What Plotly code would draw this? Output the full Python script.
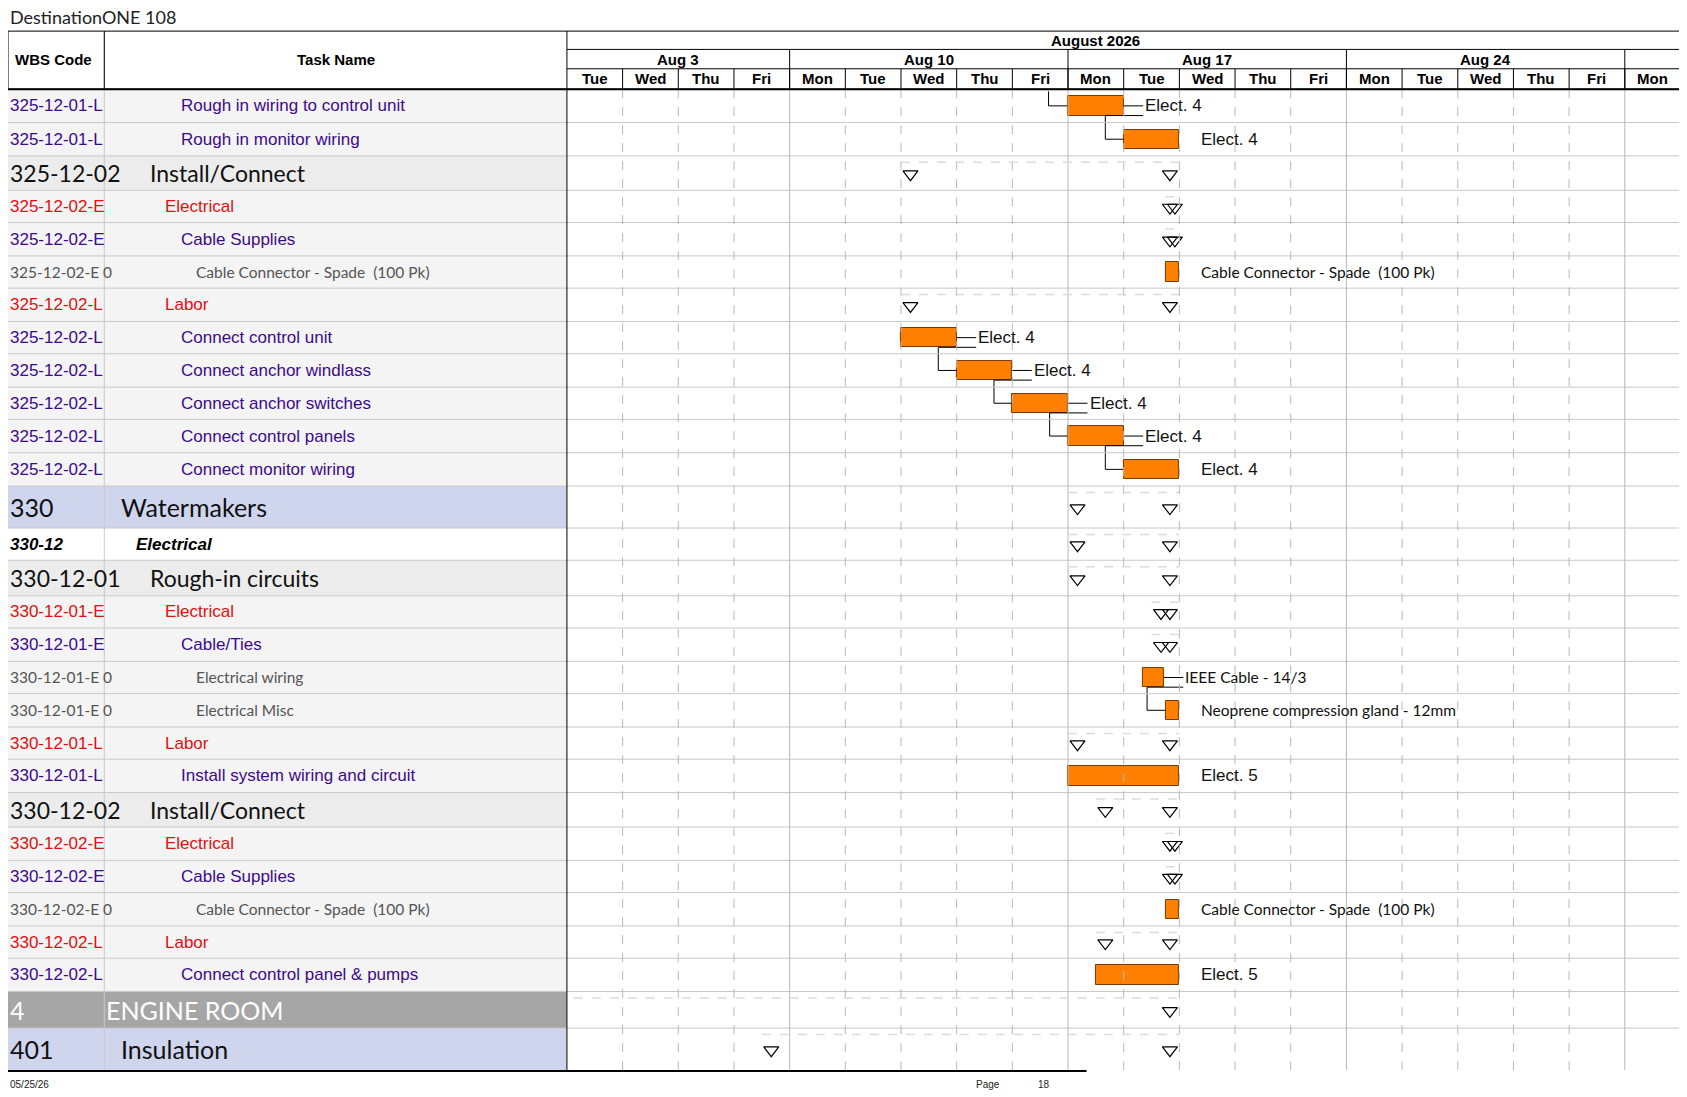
import plotly.graph_objects as go

# ---------------- data ----------------
wbs = ["325-12-01-L","325-12-01-L","325-12-02","325-12-02-E","325-12-02-E","325-12-02-E 0",
       "325-12-02-L","325-12-02-L","325-12-02-L","325-12-02-L","325-12-02-L","325-12-02-L",
       "330","330-12","330-12-01","330-12-01-E","330-12-01-E","330-12-01-E 0","330-12-01-E 0",
       "330-12-01-L","330-12-01-L","330-12-02","330-12-02-E","330-12-02-E","330-12-02-E 0",
       "330-12-02-L","330-12-02-L","4","401"]
tasks = ["Rough in wiring to control unit","Rough in monitor wiring","Install/Connect","Electrical",
         "Cable Supplies","Cable Connector - Spade  (100 Pk)","Labor","Connect control unit",
         "Connect anchor windlass","Connect anchor switches","Connect control panels","Connect monitor wiring",
         "Watermakers","Electrical","Rough-in circuits","Electrical","Cable/Ties","Electrical wiring",
         "Electrical Misc","Labor","Install system wiring and circuit","Install/Connect","Electrical",
         "Cable Supplies","Cable Connector - Spade  (100 Pk)","Labor","Connect control panel & pumps",
         "ENGINE ROOM","Insulation"]
kinds = ["task","task","sum","red","task","item","red","task","task","task","task","task",
         "grp","bi","sum","red","task","item","item","red","task","sum","red","task","item",
         "red","task","eng","grp"]
# working-day index: 0 = Tue Aug 4
starts = [9,10,6,10.75,10.75,10.75,6,6,7,8,9,10,9,9,9,10.5,10.5,10.35,10.75,9,9,9.5,10.75,10.75,10.75,9.5,9.5,-1,3.5]
ends   = [10,11,11,11,11,11,11,7,8,9,10,11,11,11,11,11,11,10.72,11,11,11,11,11,11,11,11,11,11,11]
labels = ["Elect. 4","Elect. 4","","","","Cable Connector - Spade  (100 Pk)","","Elect. 4","Elect. 4",
          "Elect. 4","Elect. 4","Elect. 4","","","","","","IEEE Cable - 14/3",
          "Neoprene compression gland - 12mm","","Elect. 5","","","","Cable Connector - Spade  (100 Pk)",
          "","Elect. 5","",""]
pred = [-2,0,None,None,None,None,None,None,7,8,9,10,None,None,None,None,None,None,17,None,None,
        None,None,None,None,None,None,None,None]
succ = [0,7,8,9,10,17]
days = ["Tue","Wed","Thu","Fri","Mon","Tue","Wed","Thu","Fri","Mon","Tue","Wed","Thu","Fri",
        "Mon","Tue","Wed","Thu","Fri","Mon"]
weeks = ["Aug 3","Aug 10","Aug 17","Aug 24"]
week_start = [-1,4,9,14]

# ---------------- layout constants (display units) ----------------
tops = [83,114,145,177,207,238,268,299,329,360,390,421,452,491,521,554,584,615,645,676,706,737,
        769,800,830,861,891,922,956,995]
W, H = 1568, 1020
OFF = 7.5  # compensates the page's body margin
XL = OFF + 0.3  # leftmost visible text position
GX0, GX1 = 527, 1562
dw = (GX1 - GX0) / 20.0
def gx(d): return GX0 + d * dw

style = {
    "task": dict(col="#3c0a8c", size=17, indent=166, bg="#f4f4f4", fam="Liberation Sans"),
    "red":  dict(col="#e01010", size=17, indent=152, bg="#f4f4f4", fam="Liberation Sans"),
    "item": dict(col="#555555", size=15.5, indent=180, bg="#f4f4f4", fam="Lato"),
    "sum":  dict(col="#111111", size=23, indent=138, bg="#ececec", fam="Lato"),
    "grp":  dict(col="#111111", size=25, indent=111, bg="#d0d5ee", fam="Lato"),
    "bi":   dict(col="#000000", size=17, indent=125, bg="#ffffff", fam="Liberation Sans"),
    "eng":  dict(col="#ffffff", size=25, indent=97, bg="#a6a6a6", fam="Lato"),
}

shapes, ann = [], []
fig = go.Figure()

for i, k in enumerate(kinds):
    s = style[k]
    shapes.append(dict(type="rect", xref="x", yref="y", x0=0, x1=GX0, y0=tops[i], y1=tops[i+1],
                       fillcolor=s["bg"], line=dict(width=0), layer="below"))
    yc = (tops[i] + tops[i+1]) / 2
    fw = dict(color=s["col"], size=s["size"], family=s["fam"])
    txt_w = f"<b><i>{wbs[i]}</i></b>" if k == "bi" else wbs[i]
    txt_t = f"<b><i>{tasks[i]}</i></b>" if k == "bi" else tasks[i]
    ann.append(dict(x=XL, y=yc, xref="x", yref="y", text=txt_w, showarrow=False, xanchor="left", font=fw))
    ann.append(dict(x=s["indent"], y=yc, xref="x", yref="y", text=txt_t, showarrow=False,
                    xanchor="left", font=fw))
for t in tops[1:-1]:
    shapes.append(dict(type="line", xref="x", yref="y", x0=0, x1=GX1, y0=t, y1=t,
                       line=dict(color="#c8c8c8", width=1)))
shapes.append(dict(type="line", xref="x", yref="y", x0=97, x1=97, y0=29, y1=995,
                   line=dict(color="#c8c8c8", width=1)))

for d in range(1, 21):
    x = gx(d)
    wk = d in (4, 9, 14, 19)
    shapes.append(dict(type="line", xref="x", yref="y", x0=x, x1=x, y0=83, y1=995,
                       line=dict(color="#b8b8b8", width=1, dash="solid" if wk else "dash")))

shapes += [
    dict(type="rect", xref="x", yref="y", x0=OFF, x1=W-1, y0=29, y1=83, line=dict(color="black", width=1)),
    dict(type="line", xref="x", yref="y", x0=0, x1=W, y0=83, y1=83, line=dict(color="black", width=2)),
    dict(type="line", xref="x", yref="y", x0=97, x1=97, y0=29, y1=83, line=dict(color="black", width=1)),
    dict(type="line", xref="x", yref="y", x0=GX0, x1=GX0, y0=29, y1=995, line=dict(color="black", width=1)),
    dict(type="line", xref="x", yref="y", x0=GX0, x1=GX1, y0=46, y1=46, line=dict(color="black", width=1)),
    dict(type="line", xref="x", yref="y", x0=GX0, x1=GX1, y0=64, y1=64, line=dict(color="black", width=1)),
    dict(type="line", xref="x", yref="y", x0=GX1, x1=GX1, y0=29, y1=995, line=dict(color="#1a1a80", width=1.5)),
    dict(type="line", xref="x", yref="y", x0=0, x1=1010, y0=996, y1=996, line=dict(color="black", width=2)),
]
hf = dict(family="Liberation Sans", size=15, color="black")
ann.append(dict(x=50, y=55, xref="x", yref="y", text="<b>WBS Code</b>", showarrow=False, font=hf))
ann.append(dict(x=312, y=55, xref="x", yref="y", text="<b>Task Name</b>", showarrow=False, font=hf))
ann.append(dict(x=1018, y=37.5, xref="x", yref="y", text="<b>August 2026</b>", showarrow=False, font=hf))
for j, w in enumerate(weeks):
    a = max(week_start[j], 0); b = min(week_start[j] + 5, 20)
    if j > 0:
        shapes.append(dict(type="line", xref="x", yref="y", x0=gx(a), x1=gx(a), y0=46, y1=83,
                           line=dict(color="black", width=1)))
    ann.append(dict(x=(gx(a)+gx(b))/2, y=55, xref="x", yref="y", text=f"<b>{w}</b>", showarrow=False, font=hf))
shapes.append(dict(type="line", xref="x", yref="y", x0=gx(19), x1=gx(19), y0=46, y1=83, line=dict(color="black", width=1)))
for d, nm in enumerate(days):
    if d > 0:
        shapes.append(dict(type="line", xref="x", yref="y", x0=gx(d), x1=gx(d), y0=64, y1=83,
                           line=dict(color="black", width=1)))
    ann.append(dict(x=gx(d+0.5), y=73.5, xref="x", yref="y", text=f"<b>{nm}</b>", showarrow=False, font=hf))

ann.append(dict(x=XL, y=16, xref="x", yref="y", text="DestinationONE 108", showarrow=False, xanchor="left",
                font=dict(family="Lato", size=18, color="#222")))
ff = dict(family="Liberation Sans", size=10, color="#222")
ann.append(dict(x=XL, y=1008, xref="x", yref="y", text="05/25/26", showarrow=False, xanchor="left", font=ff))
ann.append(dict(x=918, y=1008, xref="x", yref="y", text="Page", showarrow=False, font=ff))
ann.append(dict(x=970, y=1008, xref="x", yref="y", text="18", showarrow=False, font=ff))

bx, bb, by = [], [], []
tx, ty = [], []
for i, k in enumerate(kinds):
    yc = (tops[i] + tops[i+1]) / 2
    if k in ("sum", "grp", "bi", "red", "eng") or tasks[i] in ("Cable Supplies", "Cable/Ties"):
        s0 = max(starts[i], -0.2)
        shapes.append(dict(type="line", xref="x2", yref="y", x0=s0, x1=ends[i], y0=tops[i]+6, y1=tops[i]+6,
                           line=dict(color="#dcdcdc", width=1.5, dash="dash")))
        if starts[i] >= 0:
            tx.append(starts[i] + 0.17); ty.append(yc + 1)
        tx.append(ends[i] - 0.17); ty.append(yc + 1)
    else:
        bx.append(ends[i] - starts[i]); bb.append(starts[i]); by.append(yc)
        if labels[i]:
            ann.append(dict(x=ends[i] + 0.35, y=yc, xref="x2", yref="y", text=labels[i], showarrow=False,
                            xanchor="left",
                            font=dict(family="Lato" if k == "item" else "Liberation Sans",
                                      size=15.5 if k == "item" else 17, color="#111")))
        if i in succ:
            fig.add_trace(go.Scatter(x=[ends[i], ends[i] + 0.35], y=[yc, yc], xaxis="x2", yaxis="y",
                                     mode="lines", line=dict(color="black", width=1),
                                     hoverinfo="skip", showlegend=False))
        p = pred[i]
        if p is not None:
            if p < 0:
                ya = tops[i] + 2
                xs = [starts[i] - 0.35, starts[i] - 0.35, starts[i]]; ys = [ya, yc, yc]
            else:
                ypc = (tops[p] + tops[p+1]) / 2 + 9
                xs = [ends[p] + 0.35, starts[i] - 0.33, starts[i] - 0.33, starts[i]]
                ys = [ypc, ypc, yc, yc]
            fig.add_trace(go.Scatter(x=xs, y=ys, xaxis="x2", yaxis="y", mode="lines",
                                     line=dict(color="black", width=1), hoverinfo="skip", showlegend=False))

fig.add_trace(go.Bar(x=bx, base=bb, y=by, orientation="h", width=18, xaxis="x2", yaxis="y",
                     marker=dict(color="#ff8000", line=dict(color="#7a3a00", width=1)),
                     hoverinfo="skip", showlegend=False))
fig.add_trace(go.Scatter(x=tx, y=ty, xaxis="x2", yaxis="y", mode="markers",
                         marker=dict(symbol="triangle-down-open", size=13, color="black", line=dict(width=1.2)),
                         hoverinfo="skip", showlegend=False))

fig.update_layout(
    width=1687, height=1097, margin=dict(l=0, r=0, t=0, b=0),
    paper_bgcolor="white", plot_bgcolor="white",
    xaxis=dict(range=[OFF, W + OFF], domain=[0, 1], visible=False, fixedrange=True),
    xaxis2=dict(range=[0, 20], domain=[(GX0 - OFF) / W, (GX1 - OFF) / W], anchor="y", visible=False),
    yaxis=dict(range=[H + OFF, OFF], visible=False),
    shapes=shapes, annotations=ann, bargap=0,
)
fig.write_html("out.html")
